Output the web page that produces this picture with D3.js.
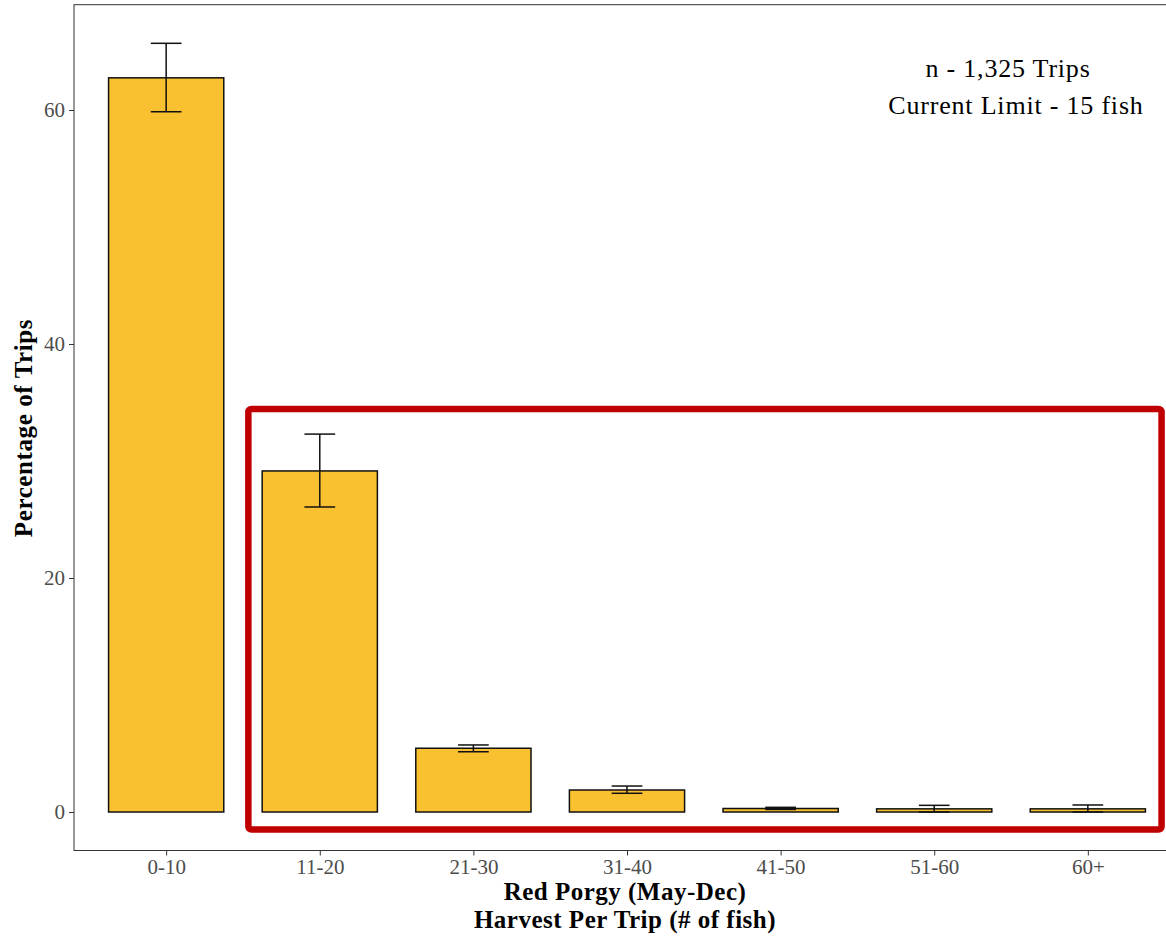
<!DOCTYPE html>
<html>
<head>
<meta charset="utf-8">
<script src="https://cdn.jsdelivr.net/npm/d3@7"></script>
<style>
  body { margin: 0; background: #fff; }
  svg text { font-family: "Liberation Serif", "Times New Roman", serif; }
</style>
</head>
<body>
<div id="chart"></div>
<script>
// harvest bins and percentage of trips
var categories = ["0-10", "11-20", "21-30", "31-40", "41-50", "51-60", "60+"];
var percent = [62.75, 29.15, 5.45, 1.88, 0.3, 0.27, 0.27];
var errLow = [59.85, 26.07, 5.15, 1.6, 0.22, 0.0, 0.0];
var errHigh = [65.7, 32.3, 5.73, 2.22, 0.4, 0.57, 0.6];
var yTicks = [0, 20, 40, 60];
var noteLines = ["n - 1,325 Trips", "Current Limit - 15 fish"];

var width = 1166, height = 937;

var svg = d3.select("#chart").append("svg")
    .attr("width", width)
    .attr("height", height);

var xScale = d3.scalePoint()
    .domain(categories)
    .range([74, 1180])
    .padding(0.6);

var step = xScale.step();
var barW = step * 0.75;

var yScale = d3.scaleLinear()
    .domain([-3.29, 69.0])
    .range([850.5, 4.7]);

var data = categories.map(function (c, i) {
    return { cat: c, v: percent[i], lo: errLow[i], hi: errHigh[i] };
});

// panel border (right side falls outside the picture)
svg.append("rect")
    .attr("x", 74).attr("y", yScale(69.0))
    .attr("width", 1180 - 74)
    .attr("height", yScale(-3.29) - yScale(69.0))
    .attr("fill", "none")
    .attr("stroke", "#333")
    .attr("stroke-width", 1);

// bars
svg.selectAll(".bar")
    .data(data)
    .join("rect")
    .attr("class", "bar")
    .attr("x", function (d) { return xScale(d.cat) - barW / 2; })
    .attr("y", function (d) { return yScale(d.v); })
    .attr("width", barW)
    .attr("height", function (d) { return yScale(0) - yScale(d.v); })
    .attr("fill", "#F9C02F")
    .attr("stroke", "#111")
    .attr("stroke-width", 1.5);

// error bars
var capW = step * 0.2;
var eb = svg.selectAll(".err")
    .data(data)
    .join("g")
    .attr("class", "err")
    .attr("stroke", "#111")
    .attr("stroke-width", 1.5);

eb.append("line")
    .attr("x1", function (d) { return xScale(d.cat); })
    .attr("x2", function (d) { return xScale(d.cat); })
    .attr("y1", function (d) { return yScale(d.lo); })
    .attr("y2", function (d) { return yScale(d.hi); });
eb.append("line")
    .attr("x1", function (d) { return xScale(d.cat) - capW / 2; })
    .attr("x2", function (d) { return xScale(d.cat) + capW / 2; })
    .attr("y1", function (d) { return yScale(d.hi); })
    .attr("y2", function (d) { return yScale(d.hi); });
eb.append("line")
    .attr("x1", function (d) { return xScale(d.cat) - capW / 2; })
    .attr("x2", function (d) { return xScale(d.cat) + capW / 2; })
    .attr("y1", function (d) { return yScale(d.lo); })
    .attr("y2", function (d) { return yScale(d.lo); });

// y axis
var yAxis = svg.append("g")
    .attr("transform", "translate(74,0)")
    .call(d3.axisLeft(yScale).tickValues(yTicks).tickSize(5).tickPadding(4));
yAxis.select(".domain").remove();
yAxis.selectAll(".tick line").attr("stroke", "#333");
yAxis.selectAll(".tick text")
    .attr("fill", "#4D4D4D")
    .style("font-size", "21px")
    .style("font-family", "Liberation Serif, serif");

// x axis
var xAxis = svg.append("g")
    .attr("transform", "translate(0," + yScale(-3.29) + ")")
    .call(d3.axisBottom(xScale).tickSize(5).tickPadding(4));
xAxis.select(".domain").remove();
xAxis.selectAll(".tick line").attr("stroke", "#333");
xAxis.selectAll(".tick text")
    .attr("fill", "#4D4D4D")
    .style("font-size", "21px")
    .style("font-family", "Liberation Serif, serif");

// axis titles
svg.append("text")
    .attr("transform", "translate(32,428) rotate(-90)")
    .attr("text-anchor", "middle")
    .attr("font-size", "25px")
    .attr("letter-spacing", "0.6px")
    .attr("font-weight", "bold")
    .attr("fill", "#000")
    .text("Percentage of Trips");

svg.append("text")
    .attr("x", 625).attr("y", 900)
    .attr("text-anchor", "middle")
    .attr("font-size", "25px")
    .attr("letter-spacing", "0.5px")
    .attr("font-weight", "bold")
    .text("Red Porgy (May-Dec)");
svg.append("text")
    .attr("x", 625).attr("y", 928)
    .attr("text-anchor", "middle")
    .attr("font-size", "25px")
    .attr("letter-spacing", "0.5px")
    .attr("font-weight", "bold")
    .text("Harvest Per Trip (# of fish)");

// annotation
svg.append("text")
    .attr("x", 1008).attr("y", 77)
    .attr("text-anchor", "middle")
    .attr("font-size", "26px")
    .attr("letter-spacing", "0.8px")
    .text(noteLines[0]);
svg.append("text")
    .attr("x", 1016).attr("y", 114)
    .attr("text-anchor", "middle")
    .attr("font-size", "26px")
    .attr("letter-spacing", "0.8px")
    .text(noteLines[1]);

// red highlight box around bins above 10 fish
var boxLeft = xScale("11-20") - step * 0.465;
var boxRight = xScale("60+") + step * 0.48;
svg.append("rect")
    .attr("x", boxLeft)
    .attr("y", yScale(34.45))
    .attr("width", boxRight - boxLeft)
    .attr("height", yScale(-1.5) - yScale(34.45))
    .attr("rx", 3)
    .attr("fill", "none")
    .attr("stroke", "#C00000")
    .attr("stroke-width", 6.5);
</script>
</body>
</html>
